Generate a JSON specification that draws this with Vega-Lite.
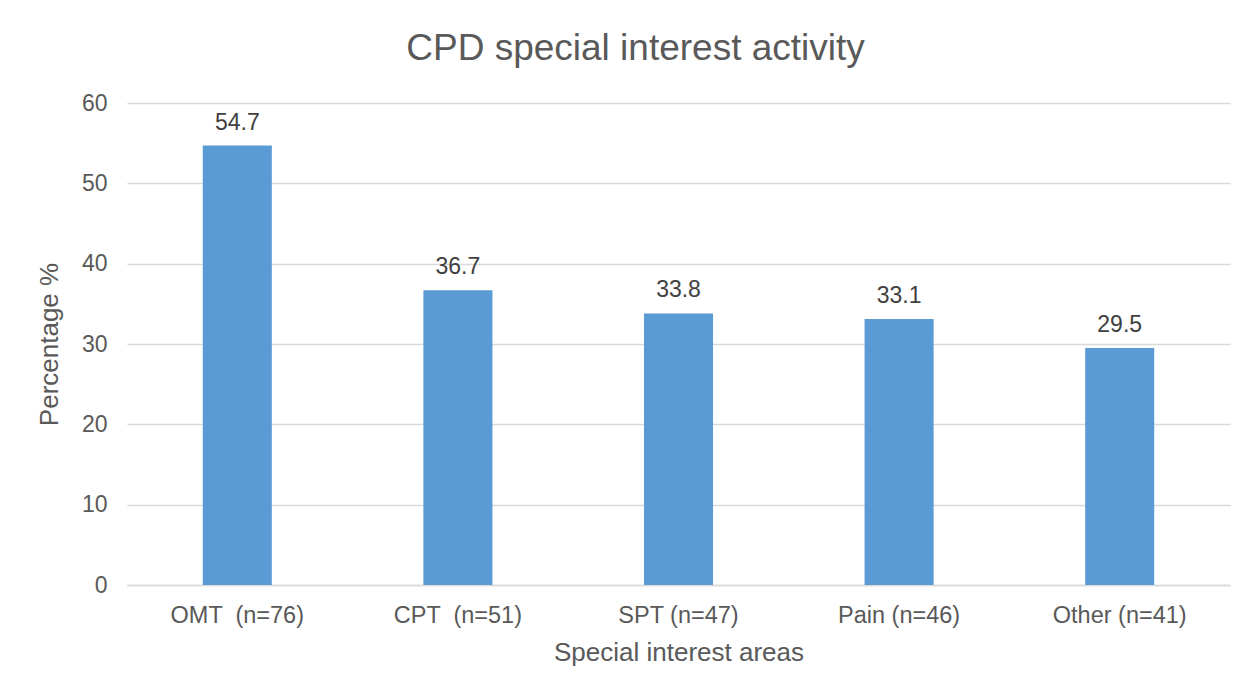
{
  "$schema": "https://vega.github.io/schema/vega-lite/v6.json",
  "autosize": "none",
  "width": 1103,
  "height": 482,
  "padding": {"left": 127, "top": 103, "right": 27, "bottom": 109},
  "background": "white",
  "title": {
    "text": "CPD special interest activity",
    "font": "Liberation Sans",
    "fontSize": 37,
    "fontWeight": "normal",
    "color": "#595959",
    "anchor": "middle",
    "dx": -43,
    "offset": 24
  },
  "data": {
    "values": [
      {"area": "OMT \u00a0(n=76)", "pct": 54.7},
      {"area": "CPT \u00a0(n=51)", "pct": 36.7},
      {"area": "SPT (n=47)", "pct": 33.8},
      {"area": "Pain (n=46)", "pct": 33.1},
      {"area": "Other (n=41)", "pct": 29.5}
    ]
  },
  "config": {
    "view": {"stroke": null},
    "font": "Liberation Sans"
  },
  "encoding": {
    "x": {
      "field": "area",
      "type": "nominal",
      "sort": null,
      "scale": {"paddingInner": 0.687, "paddingOuter": 0.3435},
      "axis": {
        "title": "Special interest areas",
        "titleFont": "Liberation Sans",
        "titleFontSize": 26,
        "titleFontWeight": "normal",
        "titleColor": "#595959",
        "titlePadding": 13,
        "labelFont": "Liberation Sans",
        "labelFontSize": 23.5,
        "labelColor": "#595959",
        "labelAngle": 0,
        "labelPadding": 18,
        "ticks": false,
        "domainColor": "#d9d9d9",
        "domainWidth": 1.5,
        "grid": false
      }
    },
    "y": {
      "field": "pct",
      "type": "quantitative",
      "scale": {"domain": [0, 60]},
      "axis": {
        "title": "Percentage %",
        "titleFont": "Liberation Sans",
        "titleFontSize": 26,
        "titleFontWeight": "normal",
        "titleColor": "#595959",
        "titlePadding": 19,
        "labelFont": "Liberation Sans",
        "labelFontSize": 23,
        "labelColor": "#595959",
        "labelPadding": 20,
        "values": [0, 10, 20, 30, 40, 50, 60],
        "ticks": false,
        "domain": false,
        "grid": true,
        "gridColor": "#d9d9d9",
        "gridWidth": 1.5
      }
    }
  },
  "layer": [
    {"mark": {"type": "bar", "color": "#5B9BD5"}},
    {
      "mark": {
        "type": "text",
        "baseline": "alphabetic",
        "dy": -16,
        "fontSize": 23,
        "color": "#404040",
        "font": "Liberation Sans"
      },
      "encoding": {"text": {"field": "pct", "type": "quantitative", "format": ".1f"}}
    }
  ]
}
